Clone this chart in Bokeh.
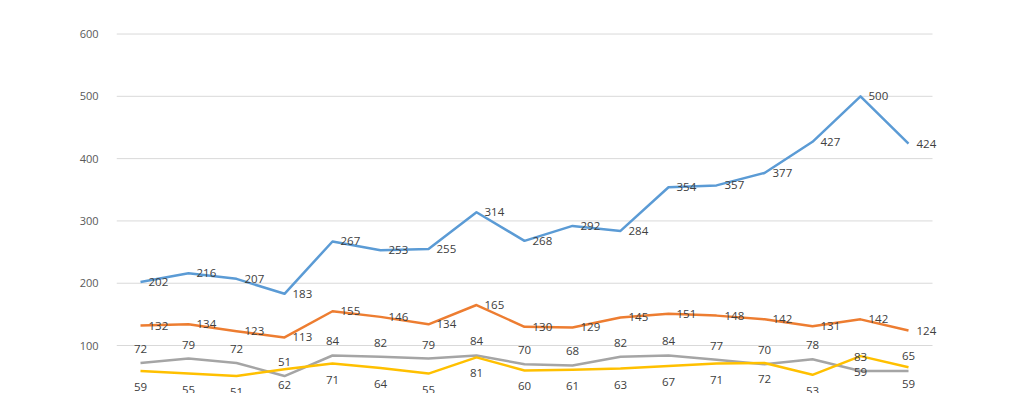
from bokeh.plotting import figure
from bokeh.models import ColumnDataSource, FixedTicker, Range1d
from bokeh.core.properties import value
from bokeh.embed import file_html
from bokeh.resources import INLINE

idx = list(range(17))
blue = [202, 216, 207, 183, 267, 253, 255, 314, 268, 292, 284, 354, 357, 377, 427, 500, 424]
orange = [132, 134, 123, 113, 155, 146, 134, 165, 130, 129, 145, 151, 148, 142, 131, 142, 124]
gray = [72, 79, 72, 51, 84, 82, 79, 84, 70, 68, 82, 84, 77, 70, 78, 59, 59]
yellow = [59, 55, 51, 62, 71, 64, 55, 81, 60, 61, 63, 67, 71, 72, 53, 83, 65]
yticks = [100, 200, 300, 400, 500, 600]

FONT = value("Open Sans")
LABEL_COLOR = "#404040"

p = figure(width=1016, height=393, output_backend="svg", toolbar_location=None,
           x_range=Range1d(-0.5, 18.25), y_range=Range1d(23.0, 653.8),
           min_border_left=116, min_border_right=0, min_border_top=0, min_border_bottom=0)
p.outline_line_color = None
p.xaxis.visible = False
p.xgrid.visible = False
p.ygrid.visible = False
p.yaxis.ticker = FixedTicker(ticks=yticks)
p.yaxis.axis_line_color = None
p.yaxis.major_tick_line_color = None
p.yaxis.minor_tick_line_color = None
p.yaxis.major_label_standoff = 12
p.yaxis.major_label_text_font = "Open Sans"
p.yaxis.major_label_text_font_size = "11px"
p.yaxis.major_label_text_color = "#595959"

# gridlines spanning the category area only
p.segment(x0=[-0.5] * len(yticks), x1=[16.5] * len(yticks), y0=yticks, y1=yticks,
          line_color="#D9D9D9", line_width=1)

series = [(blue, "#5B9BD5"), (orange, "#ED7D31"), (gray, "#A5A5A5"), (yellow, "#FFC000")]
for vals, col in series:
    p.line(idx, vals, line_color=col, line_width=2.5, line_join="round")

def labels(vals, xo, yo, align):
    src = ColumnDataSource(dict(x=idx, y=vals, t=[str(v) for v in vals], xo=xo, yo=yo))
    p.text(x="x", y="y", text="t", x_offset="xo", y_offset="yo", source=src,
           text_align=align, text_baseline="middle", text_font=FONT,
           text_font_size="11.5px", text_color=LABEL_COLOR)

n = len(idx)
labels(blue, [8] * n, [0] * n, "left")
labels(orange, [8] * n, [0] * n, "left")
gray_yo = [-14] * n
gray_yo[15] = 1
gray_yo[16] = 13
labels(gray, [0] * n, gray_yo, "center")
yellow_yo = [16] * n
yellow_yo[15] = 1
yellow_yo[16] = -11
labels(yellow, [0] * n, yellow_yo, "center")

open("out.html", "w").write(file_html(p, INLINE))
